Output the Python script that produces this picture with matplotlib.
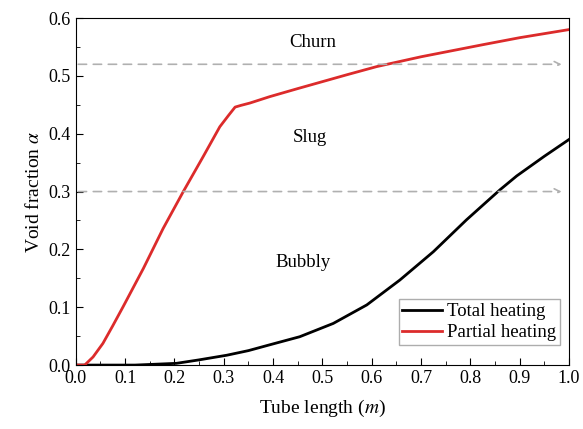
import numpy as np
import matplotlib
matplotlib.use("Agg")
import matplotlib.pyplot as plt
from matplotlib.ticker import MultipleLocator

plt.rcParams['font.family'] = ['Liberation Serif', 'DejaVu Serif']
plt.rcParams['mathtext.fontset'] = 'stix'

# Partial heating curve
partial_x = [0.0, 0.018, 0.035, 0.055, 0.075, 0.096, 0.137, 0.177, 0.218, 0.258,
             0.292, 0.31, 0.323, 0.335, 0.353, 0.393, 0.45, 0.5, 0.55, 0.61,
             0.7, 0.826, 0.9, 1.0]
partial_y = [0.0, 0.0, 0.014, 0.0375, 0.068, 0.101, 0.167, 0.236, 0.30, 0.36,
             0.412, 0.432, 0.446, 0.449, 0.453, 0.464, 0.478, 0.49, 0.502, 0.516,
             0.533, 0.554, 0.566, 0.58]

# Total heating curve
total_x = [0.0, 0.12, 0.204, 0.25, 0.306, 0.35, 0.393, 0.454, 0.522, 0.59, 0.657,
           0.725, 0.792, 0.86, 0.894, 0.95, 1.0]
total_y = [0.0, 0.0, 0.003, 0.009, 0.017, 0.025, 0.035, 0.049, 0.072, 0.104, 0.147,
           0.196, 0.251, 0.303, 0.327, 0.361, 0.39]

# Flow regime boundaries and labels
boundaries = [0.52, 0.30]
regime_names = ['Churn', 'Slug', 'Bubbly']
regime_x = [0.48, 0.475, 0.46]
regime_y = [0.557, 0.394, 0.178]

fig, ax = plt.subplots(figsize=(5.83, 4.29), dpi=100)
fig.subplots_adjust(left=0.13, right=0.976, top=0.958, bottom=0.149)

for b in boundaries:
    ax.annotate('', xy=(0.985, b), xytext=(0.005, b),
                arrowprops=dict(arrowstyle='->', color='#b0b0b0', lw=1.2,
                                linestyle=(0, (5, 4)), shrinkA=0, shrinkB=0))

ax.plot(total_x, total_y, color='black', lw=2, label='Total heating')
ax.plot(partial_x, partial_y, color='#dc2b2b', lw=2, label='Partial heating')

for name, tx, ty in zip(regime_names, regime_x, regime_y):
    ax.text(tx, ty, name, ha='center', va='center', fontsize=13.5)

ax.set_xlim(0, 1.0)
ax.set_ylim(0, 0.6)
ax.xaxis.set_major_locator(MultipleLocator(0.1))
ax.xaxis.set_minor_locator(MultipleLocator(0.05))
ax.yaxis.set_major_locator(MultipleLocator(0.1))
ax.yaxis.set_minor_locator(MultipleLocator(0.05))
ax.xaxis.set_major_formatter(plt.FormatStrFormatter('%.1f'))
ax.yaxis.set_major_formatter(plt.FormatStrFormatter('%.1f'))
ax.tick_params(which='both', direction='in', labelsize=13)
ax.tick_params(which='major', length=5)
ax.tick_params(which='minor', length=3)

ax.set_xlabel('Tube length ($m$)', fontsize=14, labelpad=8)
ax.set_ylabel(r'Void fraction $\alpha$', fontsize=14)

ax.legend(loc='lower right', fontsize=13.5, frameon=True, fancybox=False,
          edgecolor='#999999', handlelength=2.1, borderpad=0.2,
          labelspacing=0.2, handletextpad=0.3, borderaxespad=0,
          bbox_to_anchor=(0.982, 0.058))

fig.savefig('out.png', dpi=100)
